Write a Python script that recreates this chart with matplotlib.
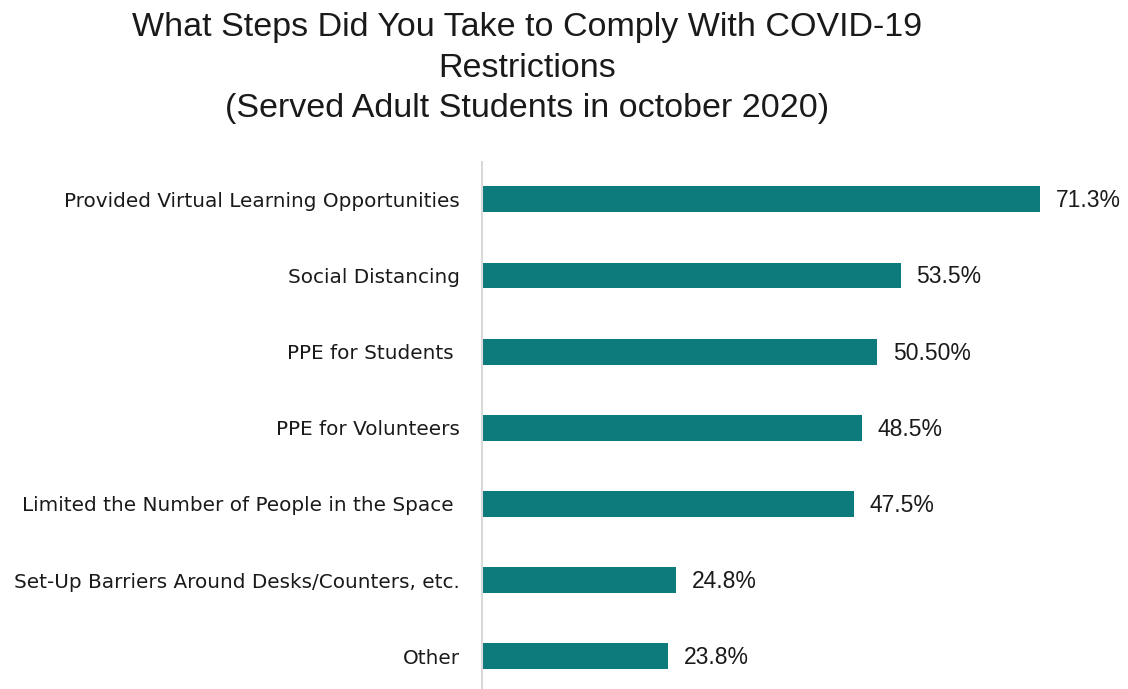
import numpy as np
import matplotlib
matplotlib.use('Agg')
import matplotlib.pyplot as plt

plt.rcParams['font.family'] = ['Liberation Sans', 'DejaVu Sans']

# data, top to bottom
steps = ['Provided Virtual Learning Opportunities',
         'Social Distancing',
         'PPE for Students ',
         'PPE for Volunteers',
         'Limited the Number of People in the Space ',
         'Set-Up Barriers Around Desks/Counters, etc.',
         'Other']
pct = [71.3, 53.5, 50.5, 48.5, 47.5, 24.8, 23.8]
pct_labels = ['71.3%', '53.5%', '50.50%', '48.5%', '47.5%', '24.8%', '23.8%']

fig = plt.figure(figsize=(11.28, 6.89), dpi=100)
ax = fig.add_axes([482/1128, 0, 646/1128, 527/689])

y = np.arange(len(steps))
ax.barh(y, pct, height=0.34, color='#0d7b7b')
ax.set_xlim(0, 82.5)
ax.set_ylim(6.43, -0.49)

for yi, v, lab in zip(y, pct, pct_labels):
    ax.text(v + 2.0, yi + 0.02, lab, va='center', ha='left', fontsize=16.5, color='#1a1a1a')

ax.set_yticks(y)
ax.set_yticklabels(steps, fontsize=14.4, color='#1a1a1a', family='DejaVu Sans')
ax.tick_params(axis='y', length=0, pad=16)
ax.set_xticks([])

for s in ['top', 'right', 'bottom']:
    ax.spines[s].set_visible(False)
ax.spines['left'].set_color('#d9d9d9')
ax.spines['left'].set_linewidth(1.5)

fig.text(527/1128, 1 - 12/689,
         'What Steps Did You Take to Comply With COVID-19\nRestrictions\n(Served Adult Students in october 2020)',
         ha='center', va='top', fontsize=24.5, linespacing=1.4, color='#1a1a1a')

fig.savefig('out.png', dpi=100)
